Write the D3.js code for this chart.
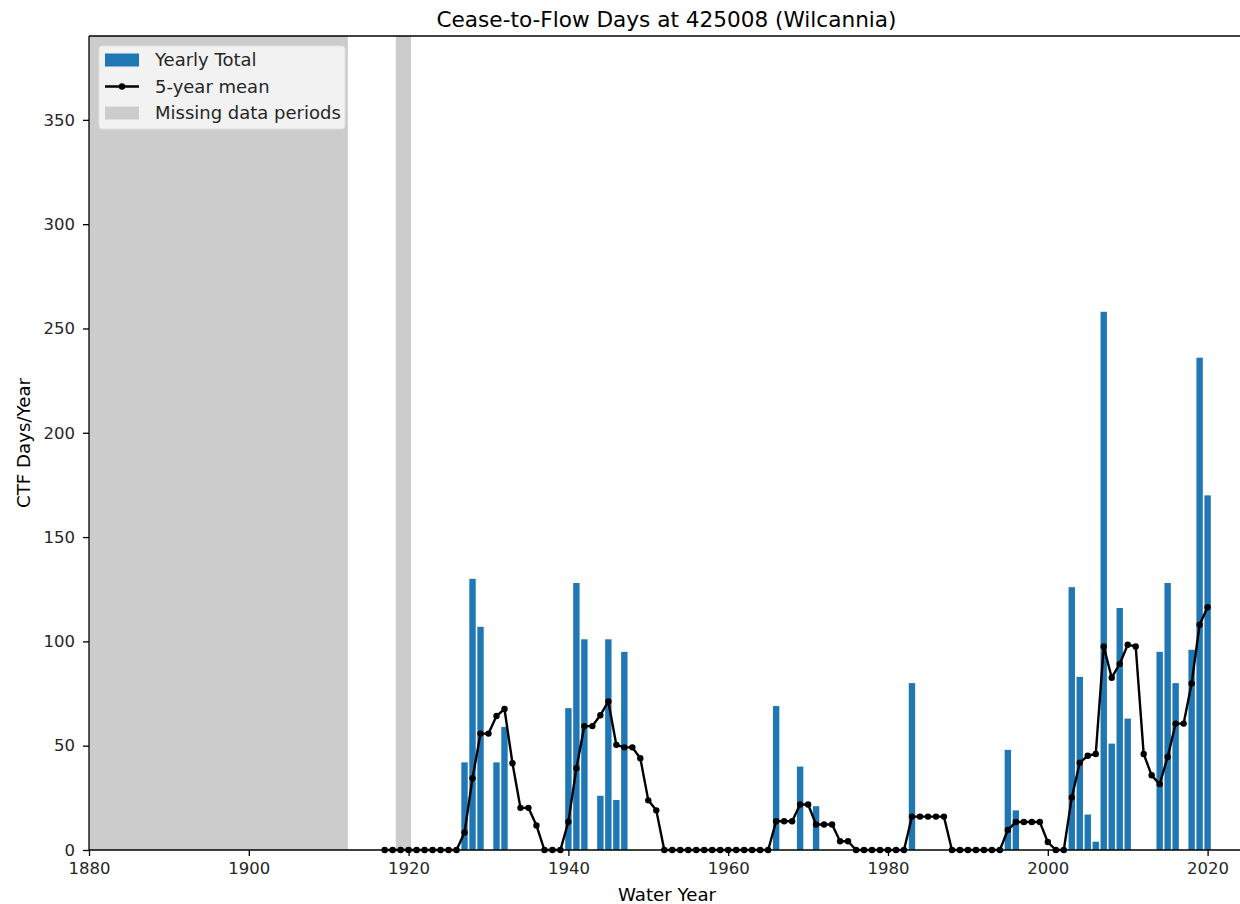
<!DOCTYPE html>
<html>
<head>
<meta charset="utf-8">
<script src="https://cdn.jsdelivr.net/npm/d3@7"></script>
<style>
  html, body { margin: 0; padding: 0; background: #ffffff; }
  svg { display: block; font-family: "DejaVu Sans", sans-serif; }
</style>
</head>
<body>
<svg id="chart" width="1240" height="904"></svg>
<script>
// ---- data ----
const barYears = [1927, 1928, 1929, 1931, 1932,
                  1940, 1941, 1942, 1944, 1945, 1946, 1947,
                  1966, 1969, 1971,
                  1983,
                  1995, 1996,
                  2003, 2004, 2005, 2006, 2007, 2008, 2009, 2010,
                  2014, 2015, 2016, 2018, 2019, 2020];
const barValues = [42, 130, 107, 42, 59,
                   68, 128, 101, 26, 101, 24, 95,
                   69, 40, 21,
                   80,
                   48, 19,
                   126, 83, 17, 4, 258, 51, 116, 63,
                   95, 128, 80, 96, 236, 170];

const meanStartYear = 1917;
const meanValues = [
  0, 0, 0, 0, 0, 0, 0, 0, 0, 0,                 // 1917-1926
  8.4, 34.4, 55.8, 55.8, 64.2, 67.6, 41.6, 20.2, 20.2, 11.8, // 1927-1936
  0, 0, 0,                                      // 1937-1939
  13.6, 39.2, 59.4, 59.4, 64.6, 71.2, 50.4, 49.2, 49.2, 44, 23.8, 19, // 1940-1951
  0, 0, 0, 0, 0, 0, 0, 0, 0, 0, 0, 0, 0, 0,     // 1952-1965
  13.8, 13.8, 13.8, 21.8, 21.8, 12.2, 12.2, 12.2, 4.2, 4.2, // 1966-1975
  0, 0, 0, 0, 0, 0, 0,                          // 1976-1982
  16, 16, 16, 16, 16,                           // 1983-1987
  0, 0, 0, 0, 0, 0, 0,                          // 1988-1994
  9.6, 13.4, 13.4, 13.4, 13.4, 3.8, 0, 0,       // 1995-2002
  25.2, 41.8, 45.2, 46, 97.6, 82.6, 89.2, 98.4, 97.6, 46, // 2003-2012
  35.8, 31.6, 44.6, 60.6, 60.6, 79.8, 108, 116.4 // 2013-2020
];

const missingStarts = [1880, 1918.4];
const missingEnds = [1912.4, 1920.3];

const xTicks = [1880, 1900, 1920, 1940, 1960, 1980, 2000, 2020];
const yTicks = [0, 50, 100, 150, 200, 250, 300, 350];

const titleText = "Cease-to-Flow Days at 425008 (Wilcannia)";
const xLabelText = "Water Year";
const yLabelText = "CTF Days/Year";
const legendLabels = ["Yearly Total", "5-year mean", "Missing data periods"];

// ---- layout ----
const svg = d3.select("#chart");
const pL = 89, pT = 36, pR = 1243, pB = 850;
const barColor = "#1f77b4";
const grayColor = "#cccccc";
const tickFont = "16.5px", labelFont = "18.2px", legendFont = "18px", titleFont = "21.6px";

const x = d3.scaleLinear().domain([1880, 2024.43]).range([pL, pR]);
const y = d3.scaleLinear().domain([0, 390.2]).range([pB, pT]);

const plot = svg.append("g");

// missing periods
plot.selectAll("rect.missing")
  .data(missingStarts.map((s, i) => [s, missingEnds[i]]))
  .enter().append("rect")
  .attr("class", "missing")
  .attr("x", d => x(d[0]))
  .attr("y", pT)
  .attr("width", d => x(d[1]) - x(d[0]))
  .attr("height", pB - pT)
  .attr("fill", grayColor);

// bars
const bw = x(1880.8) - x(1880);
plot.selectAll("rect.bar")
  .data(barYears.map((yr, i) => [yr, barValues[i]]))
  .enter().append("rect")
  .attr("class", "bar")
  .attr("x", d => x(d[0]) - bw / 2)
  .attr("y", d => y(d[1]))
  .attr("width", bw)
  .attr("height", d => y(0) - y(d[1]))
  .attr("fill", barColor);

// mean line
const meanData = meanValues.map((v, i) => [meanStartYear + i, v]);
plot.append("path")
  .datum(meanData)
  .attr("fill", "none")
  .attr("stroke", "#000")
  .attr("stroke-width", 2.4)
  .attr("stroke-linejoin", "round")
  .attr("d", d3.line().x(d => x(d[0])).y(d => y(d[1])));
plot.selectAll("circle.pt")
  .data(meanData)
  .enter().append("circle")
  .attr("class", "pt")
  .attr("cx", d => x(d[0]))
  .attr("cy", d => y(d[1]))
  .attr("r", 3.2)
  .attr("fill", "#000");

// axes
const xAxis = d3.axisBottom(x).tickValues(xTicks).tickFormat(d3.format("d"))
  .tickSizeInner(6).tickSizeOuter(0).tickPadding(6.5);
const yAxis = d3.axisLeft(y).tickValues(yTicks).tickFormat(d3.format("d"))
  .tickSizeInner(6).tickSizeOuter(0).tickPadding(8);

const gx = svg.append("g").attr("transform", `translate(0,${pB})`).call(xAxis);
const gy = svg.append("g").attr("transform", `translate(${pL},0)`).call(yAxis);
[gx, gy].forEach(g => {
  g.select(".domain").remove();
  g.selectAll(".tick line").attr("stroke", "#000").attr("stroke-width", 1.3);
  g.selectAll(".tick text").attr("fill", "#262626").style("font-size", tickFont)
    .style("font-family", "DejaVu Sans, sans-serif");
});

// spines
svg.append("line").attr("x1", pL).attr("x2", pL).attr("y1", pT).attr("y2", pB)
  .attr("stroke", "#000").attr("stroke-width", 1.3);
svg.append("line").attr("x1", pL).attr("x2", pR).attr("y1", pB).attr("y2", pB)
  .attr("stroke", "#000").attr("stroke-width", 1.3);
svg.append("line").attr("x1", pL).attr("x2", pR).attr("y1", pT).attr("y2", pT)
  .attr("stroke", "#000").attr("stroke-width", 1.3);
svg.append("line").attr("x1", pR).attr("x2", pR).attr("y1", pT).attr("y2", pB)
  .attr("stroke", "#000").attr("stroke-width", 1.3);

// title & labels
svg.append("text").attr("x", 666.5).attr("y", 27).attr("text-anchor", "middle")
  .style("font-size", titleFont).attr("fill", "#000").text(titleText);
svg.append("text").attr("x", 667).attr("y", 900.5).attr("text-anchor", "middle")
  .style("font-size", labelFont).attr("fill", "#000").text(xLabelText);
svg.append("text").attr("transform", "translate(30,443) rotate(-90)").attr("text-anchor", "middle")
  .style("font-size", labelFont).attr("fill", "#000").text(yLabelText);

// legend
const lg = svg.append("g");
lg.append("rect").attr("x", 99).attr("y", 46).attr("width", 246).attr("height", 83)
  .attr("rx", 3).attr("fill", "#f2f2f2").attr("stroke", "#e0e0e0").attr("stroke-width", 1);
const rowY = [60, 86.5, 113];
lg.append("rect").attr("x", 105).attr("y", rowY[0] - 6.5).attr("width", 34).attr("height", 13).attr("fill", barColor);
lg.append("line").attr("x1", 105).attr("x2", 139).attr("y1", rowY[1]).attr("y2", rowY[1])
  .attr("stroke", "#000").attr("stroke-width", 2.4);
lg.append("circle").attr("cx", 122).attr("cy", rowY[1]).attr("r", 3.2).attr("fill", "#000");
lg.append("rect").attr("x", 105).attr("y", rowY[2] - 6.5).attr("width", 34).attr("height", 13).attr("fill", grayColor);
lg.selectAll("text.lbl").data(legendLabels).enter().append("text")
  .attr("class", "lbl")
  .attr("x", 155).attr("y", (d, i) => rowY[i]).attr("dy", "0.35em")
  .style("font-size", legendFont).attr("fill", "#262626").text(d => d);
</script>
</body>
</html>
